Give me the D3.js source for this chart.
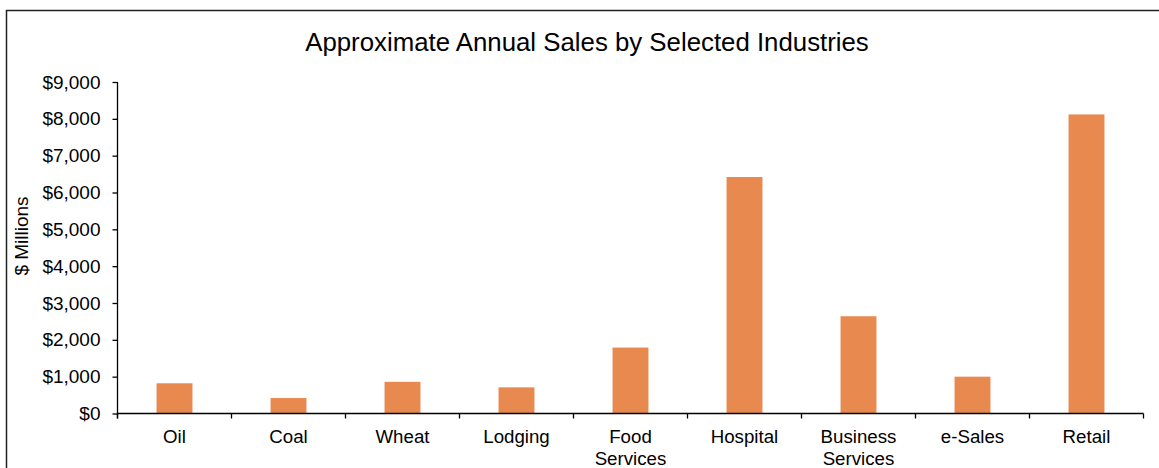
<!DOCTYPE html>
<html lang="en">
  <head>
    <meta charset="UTF-8" />
    <title>Approximate Annual Sales by Selected Industries</title>
    <script src="https://d3js.org/d3.v7.min.js"></script>
    <style>
      body { margin: 0; background: #fff; }
      text { font-family: 'Liberation Sans', Arial, sans-serif; fill: #000; }
    </style>
  </head>
  <body>
    <div id="chart"></div>

    <script>
      const industries = ['Oil', 'Coal', 'Wheat', 'Lodging', 'Food Services',
        'Hospital', 'Business Services', 'e-Sales', 'Retail'];
      const sales = [820, 420, 860, 710, 1790, 6420, 2640, 1000, 8120];
      const yTicks = [0, 1000, 2000, 3000, 4000, 5000, 6000, 7000, 8000, 9000];

      const width = 1159;
      const height = 468;
      const margin = { top: 82, left: 117.5, right: 15.5, bottom: 54.5 };

      const svg = d3
        .select('#chart')
        .append('svg')
        .attr('width', width)
        .attr('height', height);

      // chart frame, runs off the right and bottom edges
      svg.append('rect')
        .attr('x', 6.5)
        .attr('y', 10.5)
        .attr('width', width + 20)
        .attr('height', height + 20)
        .attr('fill', 'none')
        .attr('stroke', '#222')
        .attr('stroke-width', 1.5);

      const x = d3
        .scaleBand()
        .domain(industries)
        .range([margin.left, width - margin.right])
        .paddingInner(0.685)
        .paddingOuter(0.3425);

      const y = d3
        .scaleLinear()
        .domain([0, 9000])
        .range([height - margin.bottom, margin.top]);

      svg.append('text')
        .attr('x', 587)
        .attr('y', 51)
        .attr('text-anchor', 'middle')
        .style('font-size', '25.8px')
        .text('Approximate Annual Sales by Selected Industries');

      svg.append('g')
        .selectAll('rect')
        .data(industries)
        .enter()
        .append('rect')
        .attr('x', (d) => x(d))
        .attr('width', x.bandwidth())
        .attr('y', (d, i) => y(sales[i]))
        .attr('height', (d, i) => y(0) - y(sales[i]))
        .attr('fill', '#E8894F');

      // y axis
      const yAxis = svg.append('g')
        .attr('transform', `translate(${margin.left},0)`)
        .call(
          d3.axisLeft(y)
            .tickValues(yTicks)
            .tickSize(5)
            .tickPadding(12)
            .tickFormat((d) => '$' + d3.format(',')(d))
        );
      yAxis.select('.domain').attr('d', `M0,${y(9000)}V${y(0) + 5}`);
      yAxis.selectAll('line, path').attr('stroke', '#000').attr('stroke-width', 1.3);
      yAxis.selectAll('text').style('font-size', '19px').style('font-family', null);

      // x axis: ticks between categories
      const step = x.step();
      const boundaries = d3.range(industries.length + 1).map((i) => margin.left + i * step);
      const xAxis = svg.append('g');
      xAxis.append('line')
        .attr('x1', margin.left)
        .attr('x2', width - margin.right)
        .attr('y1', y(0))
        .attr('y2', y(0))
        .attr('stroke', '#000')
        .attr('stroke-width', 1.3);
      xAxis.selectAll('.tick')
        .data(boundaries)
        .enter()
        .append('line')
        .attr('x1', (d) => d)
        .attr('x2', (d) => d)
        .attr('y1', y(0))
        .attr('y2', y(0) + 5)
        .attr('stroke', '#000')
        .attr('stroke-width', 1.3);

      xAxis.selectAll('.label')
        .data(industries)
        .enter()
        .append('text')
        .attr('text-anchor', 'middle')
        .style('font-size', '18.7px')
        .each(function (d) {
          const words = d.split(' ');
          words.forEach((w, i) => {
            d3.select(this)
              .append('tspan')
              .attr('x', x(d) + x.bandwidth() / 2)
              .attr('y', 443 + i * 21.5)
              .text(w);
          });
        });

      svg.append('text')
        .attr('transform', 'translate(28,236) rotate(-90)')
        .attr('text-anchor', 'middle')
        .style('font-size', '19px')
        .text('$ Millions');
    </script>
  </body>
</html>
